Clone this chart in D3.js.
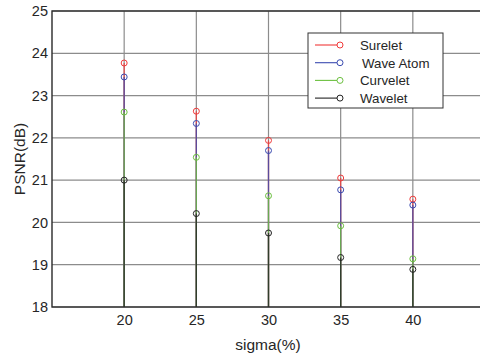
<!DOCTYPE html>
<html>
<head>
<meta charset="utf-8">
<script src="https://cdn.jsdelivr.net/npm/d3@7"></script>
<style>
  body { margin: 0; background: #fff; }
  text { font-family: "Liberation Sans", Arial, sans-serif; fill: #262626; }
</style>
</head>
<body>
<svg id="chart" width="480" height="358"></svg>
<script>
const sigma = [20, 25, 30, 35, 40]
const surelet = [23.77, 22.63, 21.94, 21.05, 20.55]
const waveAtom = [23.44, 22.34, 21.70, 20.77, 20.41]
const curvelet = [22.61, 21.54, 20.63, 19.92, 19.14]
const wavelet = [21.0, 20.21, 19.75, 19.17, 18.89]
const yTicks = [18, 19, 20, 21, 22, 23, 24, 25]

const series = [
  { name: 'Surelet', values: surelet, color: '#f03a3a' },
  { name: 'Wave Atom', values: waveAtom, color: '#3a4bb0' },
  { name: 'Curvelet', values: curvelet, color: '#6cc040' },
  { name: 'Wavelet', values: wavelet, color: '#222' }
]

const margin = { left: 52, top: 11, right: -5, bottom: 51 }
const width = 480 - margin.left - margin.right
const height = 358 - margin.top - margin.bottom

const svg = d3.select('#chart')
const g = svg.append('g').attr('transform', `translate(${margin.left},${margin.top})`)

const x = d3.scaleLinear().domain([15, 45]).range([0, width])
const y = d3.scaleLinear().domain([18, 25]).range([height, 0])

// grid
g.selectAll('.hgrid')
  .data(yTicks)
  .enter()
  .append('line')
  .attr('x1', 0)
  .attr('x2', width)
  .attr('y1', d => y(d))
  .attr('y2', d => y(d))
  .attr('stroke', '#8c8c8c')
  .attr('stroke-width', 1.2)
g.selectAll('.vgrid')
  .data(sigma)
  .enter()
  .append('line')
  .attr('x1', d => x(d))
  .attr('x2', d => x(d))
  .attr('y1', 0)
  .attr('y2', height)
  .attr('stroke', '#8c8c8c')
  .attr('stroke-width', 1.2)

// axes
const yAxis = g.append('g')
  .call(d3.axisLeft(y).tickValues(yTicks).tickFormat(d3.format('d')).tickSize(0).tickPadding(4))
yAxis.select('.domain').remove()
yAxis.selectAll('text').attr('font-size', 14.5).attr('fill', '#262626')

const xAxis = g.append('g')
  .attr('transform', `translate(0,${height})`)
  .call(d3.axisBottom(x).tickValues(sigma).tickFormat(d3.format('d')).tickSize(0).tickPadding(8))
xAxis.select('.domain').remove()
xAxis.selectAll('text').attr('font-size', 14.5).attr('fill', '#262626')

// stems
series.forEach(s => {
  g.selectAll(null)
    .data(sigma)
    .enter()
    .append('line')
    .attr('x1', d => x(d))
    .attr('x2', d => x(d))
    .attr('y1', height)
    .attr('y2', (d, i) => y(s.values[i]))
    .attr('stroke', s.color)
    .attr('stroke-width', 1.3)
    .attr('stroke-opacity', 0.8)
})
series.forEach(s => {
  g.selectAll(null)
    .data(sigma)
    .enter()
    .append('circle')
    .attr('cx', d => x(d))
    .attr('cy', (d, i) => y(s.values[i]))
    .attr('r', 3)
    .attr('fill', 'none')
    .attr('stroke', s.color)
    .attr('stroke-width', 1)
})

// frame
g.append('rect')
  .attr('width', width)
  .attr('height', height)
  .attr('fill', 'none')
  .attr('stroke', '#2a2a2a')
  .attr('stroke-width', 1.4)

// labels
svg.append('text')
  .attr('x', 268)
  .attr('y', 350)
  .attr('text-anchor', 'middle')
  .attr('font-size', 15.5)
  .text('sigma(%)')
svg.append('text')
  .attr('transform', 'translate(25,159) rotate(-90)')
  .attr('text-anchor', 'middle')
  .attr('font-size', 15.5)
  .text('PSNR(dB)')

// legend
const legend = svg.append('g').attr('transform', 'translate(308,33)')
legend.append('rect')
  .attr('width', 135)
  .attr('height', 75)
  .attr('fill', '#fff')
  .attr('stroke', '#333')
  .attr('stroke-width', 1)
series.forEach((s, i) => {
  const row = legend.append('g').attr('transform', `translate(0,${12 + i * 17.7})`)
  row.append('line')
    .attr('x1', 7)
    .attr('x2', 32)
    .attr('stroke', s.color)
    .attr('stroke-width', 1.1)
  row.append('circle')
    .attr('cx', 32)
    .attr('r', 3)
    .attr('fill', '#fff')
    .attr('stroke', s.color)
  row.append('text')
    .attr('x', i === 1 ? 54 : 52)
    .attr('y', 5)
    .attr('font-size', 13.3)
    .text(s.name)
})
</script>
</body>
</html>
